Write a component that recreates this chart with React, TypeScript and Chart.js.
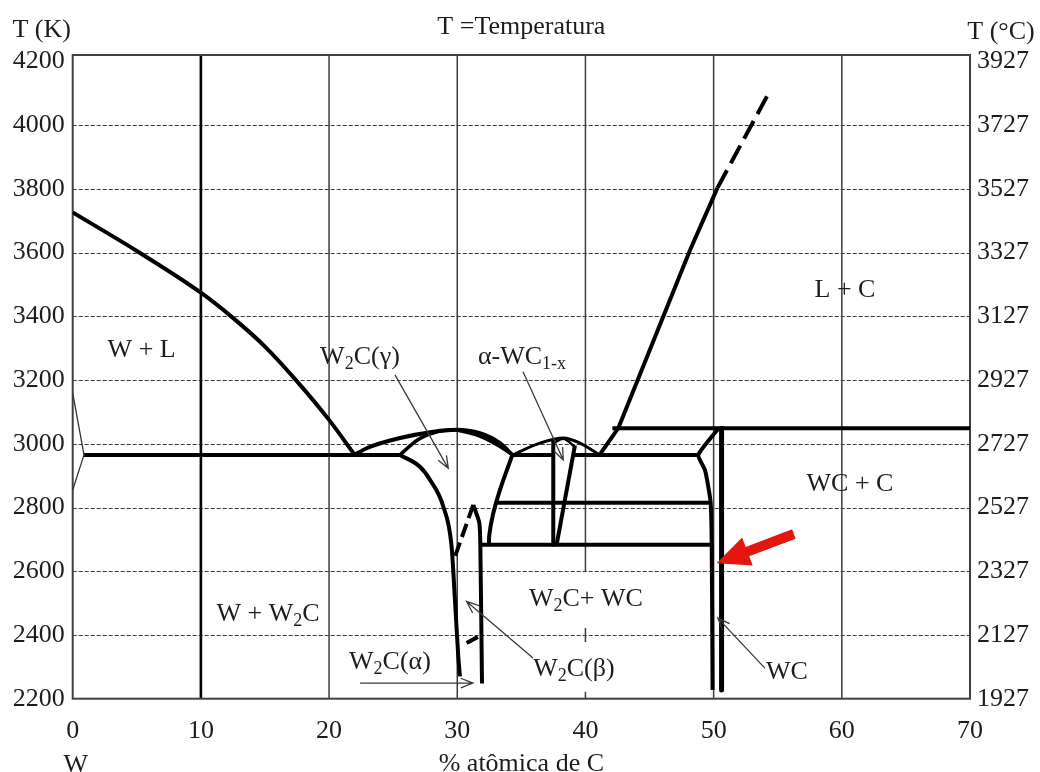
import React, { useEffect, useRef } from "react";
import { Chart, registerables } from "chart.js";

Chart.register(...registerables);

type Pt = [number, number];

// ---- axes ----
const compositionTicks = [0, 10, 20, 30, 40, 50, 60, 70];
const kelvinTicks = [2200, 2400, 2600, 2800, 3000, 3200, 3400, 3600, 3800, 4000, 4200];
const dottedLevels = [2400, 2600, 2800, 3000, 3200, 3400, 3600, 3800, 4000];
const verticalRules = [10, 20, 30, 40, 50, 60];
const kelvinToCelsius = 273;
const tMin = 2200;
const tMax = 4220;

// ---- phase boundaries: [% at. C, T (K)] ----
const wSolvus: Pt[] = [[0, 3160], [0.88, 2965], [0, 2855]];
const liquidusW: Pt[] = [[0, 3726], [5, 3605], [10, 3474], [12.5, 3395], [15, 3305], [17.5, 3196], [20, 3075], [22.0, 2965]];
const eutecticW: Pt[] = [[0.88, 2965], [25.53, 2965]];
const liquidusW2C: Pt[] = [[22.0, 2965], [22.93, 2986], [25.53, 3018], [28.13, 3038], [29.95, 3044], [31.77, 3033], [33.33, 3002], [34.3, 2965]];
const solidusW2CLeft: Pt[] = [[25.53, 2965], [26.9, 3012], [28.3, 3036], [29.95, 3044]];
const solidusW2CRight: Pt[] = [[29.95, 3044], [31.9, 3022], [33.4, 2990], [34.3, 2965]];
const gammaLeft: Pt[] = [[25.53, 2965], [27.09, 2928], [27.87, 2887], [28.91, 2803], [29.56, 2677], [29.82, 2510], [30.08, 2332], [30.21, 2270]];
const gammaRight: Pt[] = [[34.3, 2965], [33.33, 2855], [32.78, 2777], [32.5, 2714], [32.47, 2683]];
const betaRight: Pt[] = [[31.25, 2808], [31.72, 2752], [31.8, 2683], [31.93, 2248]];
const betaLeft: Pt[] = [[31.25, 2808], [29.84, 2648]];
const alphaBeta: Pt[] = [[30.73, 2375], [31.61, 2394]];
const eutecticMid: Pt[] = [[34.3, 2965], [37.49, 2965]];
const liquidusWC1x: Pt[] = [[34.3, 2965], [36.45, 3002], [38.27, 3018], [39.57, 3002], [41.1, 2965]];
const solidusWC1x: Pt[] = [[37.49, 3002], [38.27, 3016], [39.18, 2990]];
const wc1xLeft: Pt[] = [[37.49, 3006], [37.49, 2683]];
const wc1xRight: Pt[] = [[39.18, 2995], [37.75, 2683]];
const eutecticRight: Pt[] = [[39.03, 2965], [48.8, 2965]];
const liquidusC: Pt[] = [[41.1, 2965], [42.56, 3049], [48.17, 3609], [50.3, 3803]];
const liquidusCExtrapolated: Pt[] = [[50.3, 3803], [54.4, 4108]];
const peritecticWC: Pt[] = [[42.1, 3049], [70, 3049]];
const eutectoidWC1x: Pt[] = [[33.0, 2815], [49.77, 2815]];
const transitionW2C: Pt[] = [[31.8, 2683], [49.85, 2683]];
const wc1xBoundary: Pt[] = [[50.4, 3049], [48.8, 2965], [49.32, 2918], [49.58, 2866], [49.77, 2813], [49.85, 2683], [49.92, 2227]];
const wcLine: Pt[] = [[50.62, 3049], [50.62, 2227]];

// ---- region names ----
const regionNames: { text: string; x: number; t: number }[] = [
  { text: "W + L", x: 5.38, t: 3301 },
  { text: "W_{2}C(γ)", x: 22.41, t: 3279 },
  { text: "α-WC_{1-x}", x: 35.05, t: 3279 },
  { text: "L + C", x: 60.25, t: 3489 },
  { text: "WC + C", x: 60.64, t: 2880 },
  { text: "W + W_{2}C", x: 15.24, t: 2472 },
  { text: "W_{2}C+ WC", x: 40.04, t: 2519 },
  { text: "W_{2}C(α)", x: 24.75, t: 2321 },
  { text: "W_{2}C(β)", x: 39.1, t: 2300 },
  { text: "WC", x: 55.72, t: 2290 },
];

// ---- pointer arrows: [from, to] ----
const pointers: Pt[][] = [
  [[25.14, 3216], [29.3, 2923]],
  [[35.13, 3226], [38.27, 2949]],
  [[35.91, 2328], [30.73, 2505]],
  [[22.42, 2249], [31.22, 2249]],
  [[54.0, 2296], [50.33, 2453]],
];
const highlightArrow: Pt[] = [[56.26, 2717], [50.23, 2625]];

const FONT = '"Liberation Serif", "Times New Roman", Times, serif';
const INK = "#1c1c1c";

function line(data: Pt[], width = 4, tension = 0, dash: number[] = [], color = "#000", monotone = false) {
  return {
    type: "line" as const,
    data: data.map(([x, y]) => ({ x, y })),
    borderColor: color,
    borderWidth: width,
    borderDash: dash,
    borderJoinStyle: "round" as const,
    tension,
    cubicInterpolationMode: monotone ? ("monotone" as const) : ("default" as const),
    pointRadius: 0,
    fill: false,
  };
}

function drawRich(ctx: CanvasRenderingContext2D, text: string, cx: number, cy: number, size: number) {
  const parts: { s: string; sub: boolean }[] = [];
  const re = /_\{([^}]*)\}/g;
  let last = 0;
  let m: RegExpExecArray | null;
  while ((m = re.exec(text))) {
    if (m.index > last) parts.push({ s: text.slice(last, m.index), sub: false });
    parts.push({ s: m[1], sub: true });
    last = re.lastIndex;
  }
  if (last < text.length) parts.push({ s: text.slice(last), sub: false });
  const subSize = Math.round(size * 0.68);
  let total = 0;
  const widths = parts.map((p) => {
    ctx.font = `${p.sub ? subSize : size}px ${FONT}`;
    const w = ctx.measureText(p.s).width;
    total += w;
    return w;
  });
  let x = cx - total / 2;
  const base = cy + size * 0.34;
  ctx.textAlign = "left";
  ctx.textBaseline = "alphabetic";
  parts.forEach((p, i) => {
    ctx.font = `${p.sub ? subSize : size}px ${FONT}`;
    ctx.fillText(p.s, x, p.sub ? base + size * 0.2 : base);
    x += widths[i];
  });
}

const diagramPlugin = {
  id: "diagram",
  beforeDatasetsDraw(chart: any) {
    const { ctx, chartArea: a, scales } = chart;
    const px = (v: number) => scales.x.getPixelForValue(v);
    const py = (v: number) => scales.y.getPixelForValue(v);
    ctx.save();
    // dotted temperature rules
    ctx.strokeStyle = "#3a3a3a";
    ctx.lineWidth = 1.2;
    ctx.setLineDash([4, 2]);
    dottedLevels.forEach((t) => {
      const y = Math.round(py(t)) + 0.5;
      ctx.beginPath();
      ctx.moveTo(a.left, y);
      ctx.lineTo(a.right, y);
      ctx.stroke();
    });
    ctx.setLineDash([]);
    // composition rules
    verticalRules.forEach((c) => {
      const x = px(c);
      ctx.strokeStyle = c === 10 ? "#000" : "#3c3c3c";
      ctx.lineWidth = c === 10 ? 2.6 : 1.5;
      ctx.beginPath();
      if (c === 40) {
        ctx.moveTo(x, a.top);
        ctx.lineTo(x, py(2600));
        ctx.moveTo(x, py(2400) - 7);
        ctx.lineTo(x, py(2400) + 7);
        ctx.moveTo(x, a.bottom - 7);
        ctx.lineTo(x, a.bottom);
      } else {
        ctx.moveTo(x, a.top);
        ctx.lineTo(x, a.bottom);
      }
      ctx.stroke();
    });
    // frame
    ctx.strokeStyle = "#404040";
    ctx.lineWidth = 2;
    ctx.strokeRect(a.left, a.top, a.right - a.left, a.bottom - a.top);
    ctx.restore();
  },
  afterDatasetsDraw(chart: any) {
    const { ctx, chartArea: a, scales } = chart;
    const px = (v: number) => scales.x.getPixelForValue(v);
    const py = (v: number) => scales.y.getPixelForValue(v);
    ctx.save();
    // thin pointer arrows with open heads
    ctx.strokeStyle = "#3a3a3a";
    ctx.lineWidth = 1.3;
    pointers.forEach(([from, to]) => {
      const x0 = px(from[0]), y0 = py(from[1]);
      const x1 = px(to[0]), y1 = py(to[1]);
      const ang = Math.atan2(y1 - y0, x1 - x0);
      ctx.beginPath();
      ctx.moveTo(x0, y0);
      ctx.lineTo(x1, y1);
      const hl = 13, hw = 0.38;
      ctx.moveTo(x1 - hl * Math.cos(ang - hw), y1 - hl * Math.sin(ang - hw));
      ctx.lineTo(x1, y1);
      ctx.lineTo(x1 - hl * Math.cos(ang + hw), y1 - hl * Math.sin(ang + hw));
      ctx.stroke();
    });
    // red highlight arrow
    {
      const [tail, tip] = highlightArrow;
      const tx = px(tail[0]), ty = py(tail[1]);
      const hx = px(tip[0]), hy = py(tip[1]);
      const len = Math.hypot(hx - tx, hy - ty);
      const ux = (hx - tx) / len, uy = (hy - ty) / len;
      const nx = -uy, ny = ux;
      const headLen = 33, headHalf = 15, shaftHalf = 5;
      const bx = hx - ux * headLen, by = hy - uy * headLen;
      ctx.fillStyle = "#e3170f";
      ctx.beginPath();
      ctx.moveTo(tx + nx * shaftHalf, ty + ny * shaftHalf);
      ctx.lineTo(bx + nx * shaftHalf, by + ny * shaftHalf);
      ctx.lineTo(bx + nx * headHalf, by + ny * headHalf);
      ctx.lineTo(hx, hy);
      ctx.lineTo(bx - nx * headHalf, by - ny * headHalf);
      ctx.lineTo(bx - nx * shaftHalf, by - ny * shaftHalf);
      ctx.lineTo(tx - nx * shaftHalf, ty - ny * shaftHalf);
      ctx.closePath();
      ctx.fill();
    }
    // region names
    ctx.fillStyle = INK;
    regionNames.forEach((r) => drawRich(ctx, r.text, px(r.x), py(r.t), 26));
    // axis titles
    const midX = (a.left + a.right) / 2;
    drawRich(ctx, "T (K)", a.left - 31, 28, 26);
    drawRich(ctx, "T =Temperatura", midX, 25, 26);
    drawRich(ctx, "T (°C)", a.right + 31, 30, 26);
    drawRich(ctx, "% atômica de C", midX, 762, 26);
    drawRich(ctx, "W", px(0) + 3, 763, 26);
    ctx.restore();
  },
};

const tickFont = { family: FONT, size: 26 };

export default function App() {
  const ref = useRef<HTMLCanvasElement>(null);
  useEffect(() => {
    document.body.style.margin = "0";
    const chart = new Chart(ref.current as HTMLCanvasElement, {
      type: "line",
      data: {
        datasets: [
          line(wSolvus, 1.3, 0, [], "#333"),
          line(liquidusW, 4, 0, [], "#000", true),
          line(eutecticW, 4),
          line(liquidusW2C, 4, 0, [], "#000", true),
          line(solidusW2CLeft, 3.5, 0, [], "#000", true),
          line(solidusW2CRight, 3.5, 0, [], "#000", true),
          line(gammaLeft, 4, 0, [], "#000", true),
          line(gammaRight, 4, 0.3),
          line(betaRight, 4, 0.2),
          line(betaLeft, 4, 0, [14, 6]),
          line(alphaBeta, 4),
          line(eutecticMid, 4),
          line(liquidusWC1x, 3, 0, [], "#000", true),
          line(solidusWC1x, 2.5, 0, [], "#000", true),
          line(wc1xLeft, 4),
          line(wc1xRight, 4),
          line(eutecticRight, 4),
          line(liquidusC, 4),
          line(liquidusCExtrapolated, 4, 0, [20, 8]),
          line(peritecticWC, 4),
          line(eutectoidWC1x, 4),
          line(transitionW2C, 4),
          line(wc1xBoundary, 4, 0.15),
          line(wcLine, 5),
        ],
      },
      options: {
        animation: false,
        responsive: false,
        maintainAspectRatio: false,
        devicePixelRatio: 1,
        events: [],
        layout: { padding: { top: 55, left: 0, right: 0, bottom: 0 } },
        plugins: { legend: { display: false }, tooltip: { enabled: false } },
        scales: {
          x: {
            type: "linear",
            min: 0,
            max: 70,
            position: "bottom",
            grid: { display: false, drawTicks: false },
            border: { display: false },
            afterBuildTicks: (s: any) => {
              s.ticks = compositionTicks.map((v) => ({ value: v }));
            },
            afterFit: (s: any) => {
              s.height = 73.3;
            },
            ticks: { font: tickFont, color: INK, padding: 17, maxRotation: 0, autoSkip: false, callback: (v: any) => String(v) },
          },
          y: {
            type: "linear",
            min: tMin,
            max: tMax,
            position: "left",
            grid: { display: false, drawTicks: false },
            border: { display: false },
            afterBuildTicks: (s: any) => {
              s.ticks = kelvinTicks.map((v) => ({ value: v }));
            },
            afterFit: (s: any) => {
              s.width = 72.7;
            },
            ticks: { font: tickFont, color: INK, padding: 8, autoSkip: false, callback: (v: any) => String(v) },
          },
          yC: {
            type: "linear",
            min: tMin,
            max: tMax,
            position: "right",
            grid: { display: false, drawTicks: false },
            border: { display: false },
            afterBuildTicks: (s: any) => {
              s.ticks = kelvinTicks.map((v) => ({ value: v }));
            },
            afterFit: (s: any) => {
              s.width = 70;
            },
            ticks: {
              font: tickFont,
              color: INK,
              padding: 7,
              autoSkip: false,
              callback: (v: any) => String(Number(v) - kelvinToCelsius),
            },
          },
        },
      },
      plugins: [diagramPlugin],
    } as any);
    return () => chart.destroy();
  }, []);
  return (
    <canvas
      ref={ref}
      width={1040}
      height={772}
      style={{ display: "block", width: 1040, height: 772, background: "#fff" }}
    />
  );
}
